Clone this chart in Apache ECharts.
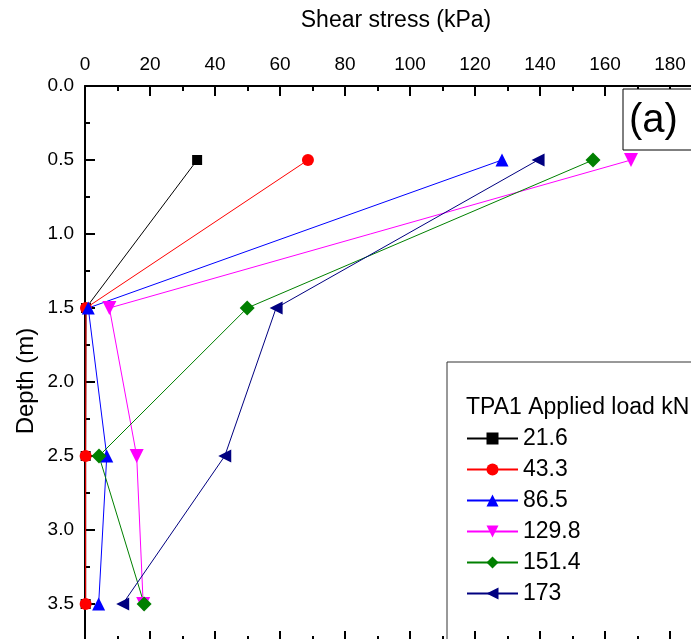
<!DOCTYPE html>
<html>
<head>
<meta charset="utf-8">
<script src="https://cdn.jsdelivr.net/npm/echarts@6/dist/echarts.min.js"></script>
<style>
  html, body { margin: 0; padding: 0; background: #fff; }
  #chart { width: 691px; height: 639px; }
</style>
</head>
<body>
<div id="chart"></div>
<script>
// Depth of each measuring level (m)
const depths = [0.5, 1.5, 2.5, 3.5];

// Applied loads (kN), one profile per load
const loadNames = ['21.6', '43.3', '86.5', '129.8', '151.4', '173'];

// Shear stress (kPa) at each depth for each load
const tau21_6  = [34.5, 0.3, 0.2, 0.2];
const tau43_3  = [68.6, 0.3, 0.2, 0.2];
const tau86_5  = [128.3, 1.0, 6.7, 4.2];
const tau129_8 = [168.0, 7.5, 15.9, 17.9];
const tau151_4 = [156.3, 49.9, 4.3, 18.2];
const tau173   = [139.4, 58.8, 43.0, 11.6];

const xTicks = [0, 20, 40, 60, 80, 100, 120, 140, 160, 180];
const yTicks = [0.0, 0.5, 1.0, 1.5, 2.0, 2.5, 3.0, 3.5];

const FONT = 'Liberation Sans, Arial, sans-serif';

const profiles = [
  { name: loadNames[0], values: tau21_6,  color: '#000000', symbol: 'rect',     size: 10, rotate: 0 },
  { name: loadNames[1], values: tau43_3,  color: '#ff0000', symbol: 'circle',   size: 12, rotate: 0 },
  { name: loadNames[2], values: tau86_5,  color: '#0000ff', symbol: 'triangle', size: 13, rotate: 0 },
  { name: loadNames[3], values: tau129_8, color: '#ff00ff', symbol: 'triangle', size: 14, rotate: 180 },
  { name: loadNames[4], values: tau151_4, color: '#008000', symbol: 'diamond',  size: 15, rotate: 0 },
  { name: loadNames[5], values: tau173,   color: '#000080', symbol: 'triangle', size: 13, rotate: 90 }
];

const series = profiles.map(p => ({
  name: p.name,
  type: 'line',
  xAxisIndex: 0,
  yAxisIndex: 0,
  data: p.values.map((v, i) => [v, depths[i]]),
  symbol: p.symbol,
  symbolSize: p.size,
  symbolRotate: p.rotate,
  clip: false,
  lineStyle: { color: p.color, width: 1 },
  itemStyle: { color: p.color },
  emphasis: { disabled: true },
  animation: false
}));

const axisLine = { show: true, lineStyle: { color: '#000', width: 2 } };
const tickStyle = { color: '#000', width: 2 };
const xMajor = new Set(xTicks);
const yMajor = new Set(yTicks.map(v => v.toFixed(1)));

const chart = echarts.init(document.getElementById('chart'), null, { renderer: 'canvas' });

chart.setOption({
  backgroundColor: '#ffffff',
  animation: false,
  grid: { left: 85, top: 86, width: 617.5, height: 555, containLabel: false, outerBoundsMode: 'none' },
  xAxis: [
    {
      type: 'value', position: 'top', min: 0, max: 190, interval: 20,
      axisLine,
      axisTick: { show: true, inside: true, length: 10, lineStyle: tickStyle },
      minorTick: { show: true, splitNumber: 2, length: 5, lineStyle: tickStyle },
      axisLabel: {
        margin: 12, fontSize: 19, color: '#000', fontFamily: FONT,
        showMaxLabel: false,
        formatter: v => xMajor.has(v) ? String(v) : ''
      },
      splitLine: { show: false }
    },
    {
      type: 'value', position: 'bottom', min: 0, max: 190, interval: 20,
      axisLine,
      axisTick: { show: true, inside: true, length: 10, lineStyle: tickStyle },
      minorTick: { show: true, splitNumber: 2, length: 5, lineStyle: tickStyle },
      axisLabel: { show: false },
      splitLine: { show: false }
    }
  ],
  yAxis: [
    {
      type: 'value', inverse: true, min: 0, max: 3.75, interval: 0.5,
      axisLine,
      axisTick: { show: true, inside: true, length: 10, lineStyle: tickStyle },
      minorTick: { show: true, splitNumber: 2, length: 5, lineStyle: tickStyle },
      axisLabel: {
        margin: 11, fontSize: 19, color: '#000', fontFamily: FONT,
        showMaxLabel: false,
        formatter: v => yMajor.has(v.toFixed(1)) && Math.abs(v * 2 - Math.round(v * 2)) < 1e-6 ? v.toFixed(1) : ''
      },
      splitLine: { show: false }
    }
  ],
  legend: {
    orient: 'vertical',
    left: 466,
    top: 427,
    padding: 0,
    itemWidth: 51,
    itemHeight: 15,
    itemGap: 8,
    selectedMode: false,
    data: loadNames,
    textStyle: { fontSize: 23, lineHeight: 23, color: '#000', fontFamily: FONT }
  },
  graphic: [
    {
      type: 'text', x: 396, y: 21,
      style: { text: 'Shear stress (kPa)', font: '23px ' + FONT, fill: '#000', align: 'center', verticalAlign: 'middle' }
    },
    {
      type: 'text', x: 26, y: 381, rotation: Math.PI / 2,
      style: { text: 'Depth (m)', font: '24px ' + FONT, fill: '#000', align: 'center', verticalAlign: 'middle' }
    },
    {
      type: 'rect', shape: { x: 447, y: 362, width: 300, height: 320 },
      style: { fill: 'none', stroke: '#333', lineWidth: 1 }, z: 1
    },
    {
      type: 'text', x: 466, y: 408,
      style: { text: 'TPA1 Applied load kN', font: '23px ' + FONT, fill: '#000', verticalAlign: 'middle' }
    },
    {
      type: 'rect', shape: { x: 623, y: 89, width: 100, height: 61 },
      style: { fill: '#fff', stroke: '#000', lineWidth: 1 }, z: 1
    },
    {
      type: 'text', x: 629, y: 121,
      style: { text: '(a)', font: '40px ' + FONT, fill: '#000', verticalAlign: 'middle' }, z: 2
    }
  ],
  series
});
</script>
</body>
</html>
